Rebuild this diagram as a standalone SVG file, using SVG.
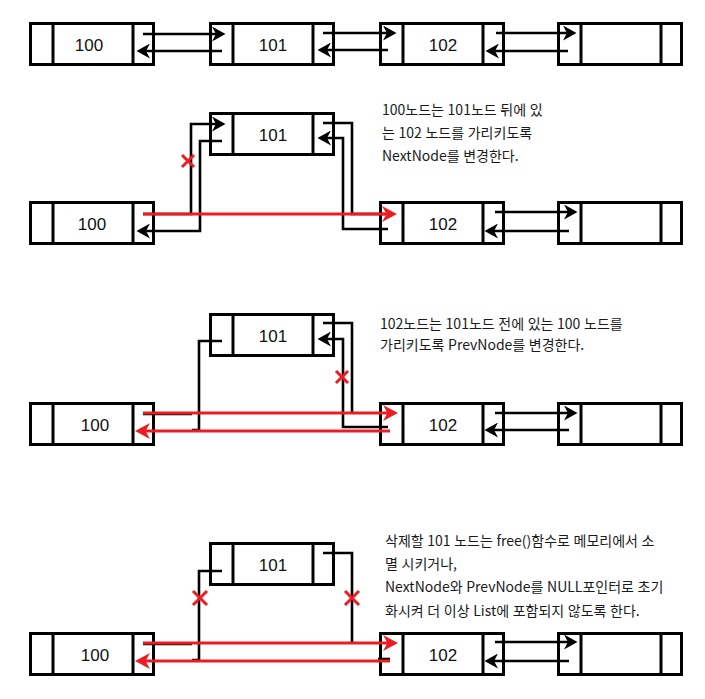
<svg xmlns="http://www.w3.org/2000/svg" width="705" height="699" viewBox="0 0 705 699">
<style>
.box{fill:#fff;stroke:#000;stroke-width:3}
.div{stroke:#000;stroke-width:3}
.lbl{font-family:"Liberation Sans",Arial,sans-serif;font-size:17px;fill:#111;text-anchor:middle}
.c{fill:none;stroke:#000;stroke-width:2.6}
.ca{fill:none;stroke:#000;stroke-width:2.6;marker-end:url(#ah)}
.r{fill:none;stroke:#ed1c24;stroke-width:3;marker-end:url(#ahr)}
.x{stroke:#ed1c24;stroke-width:3}
.t{font-family:"Noto Sans CJK KR","Noto Sans",sans-serif;font-size:14px;fill:#1a1a1a;word-spacing:0.5px}
</style>
<defs>
<marker id="ah" viewBox="0 0 14 15" refX="9" refY="7.5" markerWidth="14" markerHeight="15" orient="auto" markerUnits="userSpaceOnUse">
<path d="M0,0 L13.5,7.5 L0,15 L4,7.5 Z" fill="#000"/>
</marker>
<marker id="ahr" viewBox="0 0 16 16" refX="11" refY="8" markerWidth="16" markerHeight="16" orient="auto" markerUnits="userSpaceOnUse">
<path d="M0,0 L15,8 L0,16 L4.5,8 Z" fill="#ed1c24"/>
</marker>
<g id="nodebox">
<rect class="box" x="1.5" y="1.5" width="123" height="41"/>
<line class="div" x1="24" y1="0" x2="24" y2="44"/>
<line class="div" x1="104" y1="0" x2="104" y2="44"/>
</g>
</defs>

<!-- Section 1 -->
<g id="s1-n100"><use href="#nodebox" x="29" y="22"/><text class="lbl" x="89" y="51">100</text></g>
<g id="s1-n101"><use href="#nodebox" x="209" y="22"/><text class="lbl" x="273" y="51">101</text></g>
<g id="s1-n102"><use href="#nodebox" x="379" y="22"/><text class="lbl" x="443" y="51">102</text></g>
<g id="s1-nEmpty"><use href="#nodebox" x="557" y="22"/></g>

<!-- Section 2 -->
<g id="s2-n101"><use href="#nodebox" x="209" y="112"/><text class="lbl" x="273" y="141">101</text></g>
<g id="s2-n100"><use href="#nodebox" x="29" y="201"/><text class="lbl" x="92" y="230">100</text></g>
<g id="s2-n102"><use href="#nodebox" x="379" y="201"/><text class="lbl" x="443" y="230">102</text></g>
<g id="s2-nEmpty"><use href="#nodebox" x="557" y="201"/></g>

<!-- Section 3 -->
<g id="s3-n101"><use href="#nodebox" x="209" y="313"/><text class="lbl" x="273" y="342">101</text></g>
<g id="s3-n100"><use href="#nodebox" x="29" y="402"/><text class="lbl" x="95" y="431">100</text></g>
<g id="s3-n102"><use href="#nodebox" x="379" y="402"/><text class="lbl" x="443" y="431">102</text></g>
<g id="s3-nEmpty"><use href="#nodebox" x="557" y="402"/></g>

<!-- Section 4 -->
<g id="s4-n101"><use href="#nodebox" x="209" y="542"/><text class="lbl" x="273" y="571">101</text></g>
<g id="s4-n100"><use href="#nodebox" x="29" y="632"/><text class="lbl" x="95" y="661">100</text></g>
<g id="s4-n102"><use href="#nodebox" x="379" y="632"/><text class="lbl" x="443" y="661">102</text></g>
<g id="s4-nEmpty"><use href="#nodebox" x="557" y="632"/></g>

<g id="connectors">
<!-- S1 -->
<path class="ca" d="M143,34 H221"/>
<path class="ca" d="M222,51 H141"/>
<path class="ca" d="M323,33 H392"/>
<path class="ca" d="M388,50 H322"/>
<path class="ca" d="M496,33 H572"/>
<path class="ca" d="M568,51 H490"/>
<!-- S2 -->
<path class="ca" d="M143,214 H191 V124 H221"/>
<path class="ca" d="M222,141 H200 V231 H141"/>
<path class="c" d="M323,123 H352 V214 H390"/>
<path class="ca" d="M388,229 H343 V138 H322"/>
<path class="r" d="M143,214 H393"/>
<path class="ca" d="M495,212 H573"/>
<path class="ca" d="M569,231 H489"/>
<!-- S3 -->
<path class="c" d="M143,414 H192"/>
<path class="c" d="M222,341 H199 V430 H192"/>
<path class="c" d="M323,323 H352 V413"/>
<path class="ca" d="M388,427 H343 V339 H322"/>
<path class="r" d="M143,413 H394"/>
<path class="r" d="M390,431 H139"/>
<path class="ca" d="M495,413 H573"/>
<path class="ca" d="M569,430 H489"/>
<!-- S4 -->
<path class="c" d="M143,644 H192"/>
<path class="c" d="M222,571 H199 V660 H192"/>
<path class="c" d="M323,553 H352 V642"/>
<path class="c" d="M378,659 H390"/>
<path class="r" d="M143,643 H394"/>
<path class="r" d="M390,661 H139"/>
<path class="ca" d="M495,642 H573"/>
<path class="ca" d="M569,661 H489"/>
</g>

<g id="marks">
<path class="x" d="M182,155 L194,167 M194,155 L182,167"/>
<path class="x" d="M336,371 L348,383 M348,371 L336,383"/>
<path class="x" d="M193,591 L207,605 M207,591 L193,605"/>
<path class="x" d="M345,591 L359,605 M359,591 L345,605"/>
</g>

<g id="notes">
<text class="t" x="382" y="115">100노드는 101노드 뒤에 있</text>
<text class="t" x="382" y="138">는 102 노드를 가리키도록</text>
<text class="t" x="382" y="161">NextNode를 변경한다.</text>
<text class="t" x="380" y="329">102노드는 101노드 전에 있는 100 노드를</text>
<text class="t" x="380" y="350">가리키도록 PrevNode를 변경한다.</text>
<text class="t" x="385" y="546">삭제할 101 노드는 free()함수로 메모리에서 소</text>
<text class="t" x="385" y="569">멸 시키거나,</text>
<text class="t" x="385" y="592">NextNode와 PrevNode를 NULL포인터로 초기</text>
<text class="t" x="385" y="616">화시켜 더 이상 List에 포함되지 않도록 한다.</text>
</g>
</svg>
